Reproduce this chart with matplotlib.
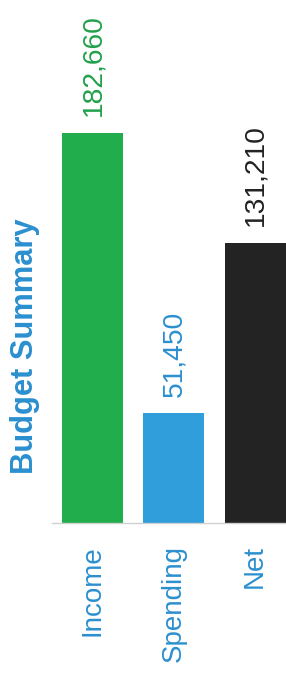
import matplotlib
matplotlib.use("Agg")
import matplotlib.pyplot as plt

categories = ["Income", "Spending", "Net"]
values = [182660, 51450, 131210]
bar_colors = ["#21ad4b", "#2f9edb", "#232323"]
label_colors = ["#22a04a", "#2b8fcf", "#222222"]
title = "Budget Summary"

plt.rcParams['font.family'] = ['Liberation Sans', 'DejaVu Sans']

W, H = 286, 683
fig = plt.figure(figsize=(W / 100, H / 100), dpi=100)
ax = fig.add_axes([52 / W, 1 - 523 / H, (286 - 52) / W, 523 / H])

x = list(range(len(categories)))
ax.bar(x, values, width=0.75, color=bar_colors, zorder=2)
ax.set_xlim(-0.5, 2.38)
ax.set_ylim(0, 245000)

for xi, v, c in zip(x, values, label_colors):
    ax.annotate(f"{v:,}", (xi, v), xytext=(0.5, 12), textcoords="offset points",
                rotation=90, ha="center", va="bottom", fontsize=20.3, color=c)

ax.set_xticks(x)
ax.set_xticklabels(categories, rotation=90, fontsize=20, color="#2b8fcf")
ax.tick_params(axis="x", length=0, pad=16)
ax.set_yticks([])
for s in ["top", "right", "left"]:
    ax.spines[s].set_visible(False)
ax.spines["bottom"].set_color("#d0d0d0")
ax.spines["bottom"].set_linewidth(1.0)

fig.text(25 / W, 1 - 346 / H, title, rotation=90, ha="center", va="center",
         fontsize=22.2, fontweight="bold", color="#2b8fcf")

fig.savefig("out.png", dpi=100, facecolor="white")
